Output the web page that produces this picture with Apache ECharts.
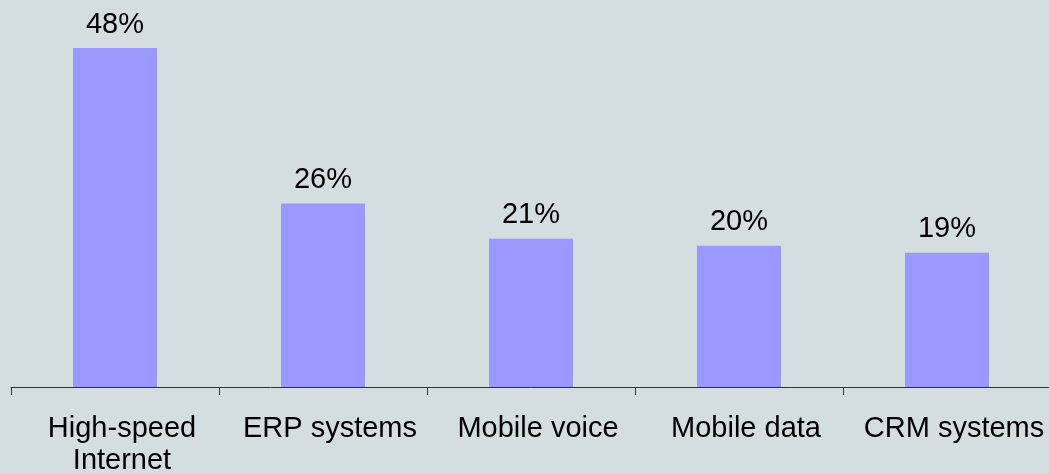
<!DOCTYPE html>
<html><head><meta charset="utf-8">
<script src="https://cdn.jsdelivr.net/npm/echarts@6/dist/echarts.min.js"></script>
<style>html,body{margin:0;padding:0;background:#d4dddf;}#c{width:1049px;height:474px;}</style>
</head><body><div id="c"></div>
<script>
const categories = ['High-speed\nInternet', 'ERP systems', 'Mobile voice', 'Mobile data', 'CRM systems'];
const values = [48, 26, 21, 20, 19];
const chart = echarts.init(document.getElementById('c'), null, {renderer: 'canvas'});
chart.setOption({
  backgroundColor: '#d4dddf',
  animation: false,
  grid: {left: 11, width: 1040, top: 34, bottom: 87, containLabel: false, outerBoundsMode: 'none'},
  xAxis: {
    type: 'category', data: categories,
    axisLine: {lineStyle: {color: '#333', width: 1}},
    axisTick: {show: true, length: 8, lineStyle: {color: '#333'}},
    axisLabel: {color: '#000', fontFamily: 'Liberation Sans, Arial', fontSize: 29, lineHeight: 32, margin: 26, interval: 0, hideOverlap: false, padding: [0, 0, 0, 14]}
  },
  yAxis: {type: 'value', min: 0, max: 50, show: false, splitLine: {show: false}},
  series: [{
    type: 'bar', data: values, barWidth: 84,
    itemStyle: {color: '#9999ff'},
    label: {show: true, position: 'top', distance: 9, formatter: '{c}%', color: '#000', fontFamily: 'Liberation Sans, Arial', fontSize: 29}
  }]
});
</script></body></html>
